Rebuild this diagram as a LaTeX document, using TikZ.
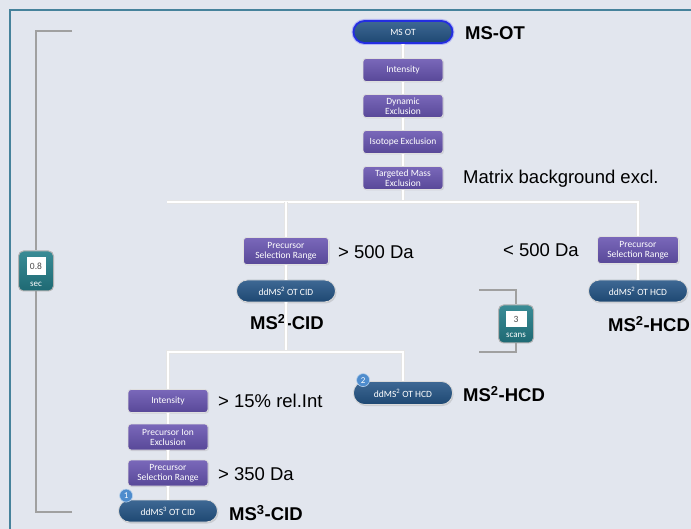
\documentclass[tikz,border=0pt]{standalone}
\usepackage{fontspec}
\setmainfont{Liberation Sans}
\newfontfamily\boxfont{Carlito}
\usetikzlibrary{positioning, shadows}

\definecolor{bgpanel}{RGB}{226,230,238}
\definecolor{frameteal}{RGB}{70,130,155}
\definecolor{filtertop}{RGB}{122,104,186}
\definecolor{filterbot}{RGB}{88,72,152}
\definecolor{scantop}{RGB}{62,104,148}
\definecolor{scanbot}{RGB}{30,72,114}
\definecolor{glowblue}{RGB}{35,45,225}
\definecolor{badgeblue}{RGB}{78,140,205}
\definecolor{timertop}{RGB}{58,140,150}
\definecolor{timerbot}{RGB}{30,105,115}
\definecolor{bracketgray}{RGB}{160,160,160}

\tikzset{
  filterbox/.style={rectangle, rounded corners=3pt, top color=filtertop, bottom color=filterbot,
    draw=white!75!gray, line width=0.8pt, text=white, align=center,
    font=\boxfont\fontsize{9.5}{10}\selectfont, minimum width=80pt, minimum height=23pt,
    inner xsep=1pt, inner ysep=1pt, drop shadow={opacity=0.2, shadow xshift=1pt, shadow yshift=-1pt}},
  scanpill/.style={rectangle, rounded corners=11pt, top color=scantop, bottom color=scanbot,
    draw=white!70!gray, line width=0.8pt, text=white,
    font=\boxfont\fontsize{9.5}{10}\selectfont, minimum width=99pt, minimum height=22pt,
    drop shadow={opacity=0.25, shadow xshift=1pt, shadow yshift=-1.5pt}},
  badge/.style={circle, fill=badgeblue, draw=white!60!badgeblue, line width=0.6pt, text=white,
    font=\boxfont\fontsize{9}{9}\selectfont, minimum size=13pt, inner sep=0pt},
  timerbox/.style={rectangle, rounded corners=5pt, top color=timertop, bottom color=timerbot,
    draw=gray!60, line width=1pt, minimum width=35pt, minimum height=40pt},
  timernum/.style={rectangle, fill=white, text=gray!60!black,
    font=\boxfont\fontsize{9.5}{9.5}\selectfont, minimum width=19pt, minimum height=18pt, inner sep=0pt},
  timerunit/.style={text=white, font=\boxfont\fontsize{9}{9}\selectfont, inner sep=0pt},
  link/.style={draw=white, line width=2.5pt, preaction={draw=black!10, line width=3.5pt}},
  bracket/.style={draw=bracketgray, line width=2.5pt},
  lbl/.style={inner sep=0pt, font=\fontsize{18.5}{20}\selectfont},
  boldlbl/.style={lbl, font=\fontsize{18.5}{20}\selectfont\bfseries}
}

\begin{document}
\begin{tikzpicture}[x=1pt, y=-1pt, on grid, node distance=36pt]
\useasboundingbox (0,0) rectangle (691,529);
\fill[bgpanel] (0,0) rectangle (691,529);
\draw[frameteal, line width=1.5pt] (10,529) -- (10,10) -- (691,10);

% survey scan and its filters
\node[scanpill, draw=glowblue, line width=1.8pt,
  preaction={draw=glowblue!35, line width=4pt}] (msot) at (403,32) {MS OT};
\node[filterbox, below=38pt of msot] (int1) {Intensity};
\node[filterbox, below=of int1] (dynex) {Dynamic\\Exclusion};
\node[filterbox, below=of dynex] (isoex) {Isotope Exclusion};
\node[filterbox, below=of isoex] (tmex) {Targeted Mass\\Exclusion};

\node[boldlbl, anchor=west] (lblmsot) at (465,33) {MS-OT};
\node[lbl, anchor=west] (lbltmex) at (463,179) {Matrix background excl.};

% first split
\coordinate (barL) at (167,202);
\node[filterbox, minimum width=85pt, minimum height=27pt] (psrL) at (286,251) {Precursor\\Selection Range};
\node[scanpill, below=40pt of psrL] (cid2) {ddMS\textsuperscript{2} OT CID};
\node[filterbox, minimum width=81pt, minimum height=27pt] (psrR) at (638,250) {Precursor\\Selection Range};
\node[scanpill, below=41pt of psrR] (hcdR) {ddMS\textsuperscript{2} OT HCD};

\node[lbl, anchor=west] (lblgt500) at (338,252) {> 500 Da};
\node[lbl, anchor=west] (lbllt500) at (503,250) {< 500 Da};
\node[boldlbl, anchor=west] (lblcid2) at (250,322) {MS\textsuperscript{2}-CID};
\node[boldlbl, anchor=west] (lblhcdR) at (608,324) {MS\textsuperscript{2}-HCD};

% second split
\coordinate (bar2) at (0,352);
\node[filterbox] (int2) at (168,401) {Intensity};
\node[filterbox, minimum height=26pt, below=of int2] (pionex) {Precursor Ion\\Exclusion};
\node[filterbox, minimum height=26pt, below=of pionex] (psr3) {Precursor\\Selection Range};
\node[scanpill, below=38pt of psr3] (cid3) {ddMS\textsuperscript{3} OT CID};
\node[scanpill, minimum height=23pt] (hcd2) at (403,393) {ddMS\textsuperscript{2} OT HCD};
\node[badge] (badge1) at ([xshift=8pt, yshift=4pt]cid3.north west) {1};
\node[badge] (badge2) at ([xshift=10pt, yshift=1pt]hcd2.north west) {2};

\node[lbl, anchor=west] (lblint2) at (218,401) {> 15\% rel.Int};
\node[lbl, anchor=west] (lblpsr3) at (218,474) {> 350 Da};
\node[boldlbl, anchor=west] (lblcid3) at (229,513) {MS\textsuperscript{3}-CID};
\node[boldlbl, anchor=west] (lblhcd2) at (463,394) {MS\textsuperscript{2}-HCD};

% timing brackets
\node[timerbox] (cycle) at (36,271) {};
\node[timernum] (cyclenum) at ([yshift=5pt]cycle.center) {0.8};
\node[timerunit] (cycleunit) at ([yshift=-13pt]cycle.center) {sec};
\node[timerbox, minimum height=38pt] (scans) at (516,324) {};
\node[timernum, minimum height=16pt, minimum width=21pt] (scansnum) at ([yshift=5pt]scans.center) {3};
\node[timerunit] (scansunit) at ([yshift=-11pt]scans.center) {scans};
\coordinate (cycleT) at (72,31);
\coordinate (cycleB) at (72,512);
\coordinate (scansT) at (479,290);
\coordinate (scansB) at (479,352);

\draw[bracket] (cycleT) -| (cycle);
\draw[bracket] (cycleB) -| (cycle);
\draw[bracket] (scansT) -| (scans);
\draw[bracket] (scansB) -| (scans);

% connectors
\draw[link] (msot) -- (int1);
\draw[link] (int1) -- (dynex);
\draw[link] (dynex) -- (isoex);
\draw[link] (isoex) -- (tmex);
\draw[link] (tmex) -- (tmex |- barL);
\draw[link] (barL) -- (psrR |- barL) -- (psrR);
\draw[link] (psrL |- barL) -- (psrL);
\draw[link] (psrL) -- (cid2);
\draw[link] (psrR) -- (hcdR);
\draw[link] (cid2) -- (cid2 |- bar2);
\draw[link] (int2) -- (int2 |- bar2) -- (hcd2 |- bar2) -- (hcd2);
\draw[link] (int2) -- (pionex);
\draw[link] (pionex) -- (psr3);
\draw[link] (psr3) -- (cid3);
\end{tikzpicture}
\end{document}
